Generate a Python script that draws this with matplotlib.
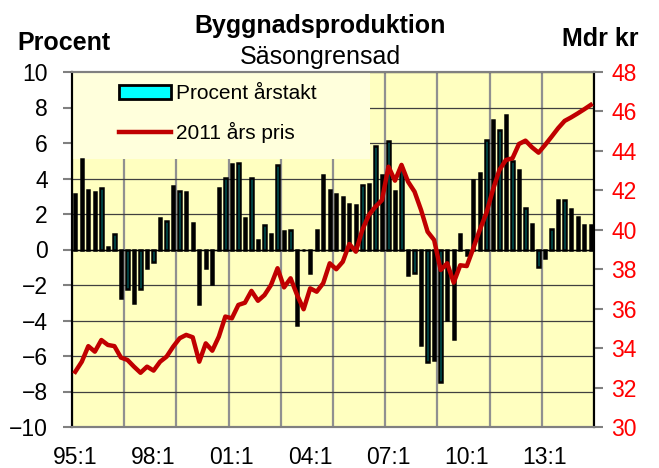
import matplotlib
matplotlib.use("Agg")
import matplotlib.pyplot as plt
import numpy as np
from matplotlib.lines import Line2D
from matplotlib.patches import Patch, Rectangle

plt.rcParams["font.family"] = ["Liberation Sans", "DejaVu Sans"]

# quarterly data 95:1 - 14:4
tick_labels = ["95:1", "98:1", "01:1", "04:1", "07:1", "10:1", "13:1"]

growth = [
    3.12, 5.09, 3.38, 3.25, 3.47, 0.15, 0.85, -2.72, -2.2, -3.0,
    -2.23, -1.07, -0.7, 1.8, 1.58, 3.59, 3.27, 3.25, 1.52, -3.06,
    -1.05, -1.92, 3.49, 4.04, 4.84, 4.85, 1.75, 4.02, 0.55, 1.37,
    0.85, 4.77, 1.03, 1.08, -4.26, 0.0, -1.35, 1.09, 4.17, 3.38,
    3.12, 2.93, 2.55, 2.5, 3.62, 3.7, 5.82, 4.17, 6.1, 3.3,
    4.55, -1.45, -1.35, -5.39, -6.33, -6.23, -7.45, -3.98, -5.07, 0.86,
    -0.3, 3.9, 4.32, 6.16, 7.32, 6.72, 7.57, 5.0, 4.47, 2.35,
    1.42, -0.98, -0.48, 1.18, 2.8, 2.8, 2.3, 1.84, 1.37, 1.36,
]

price = [
    32.8, 33.31, 34.1, 33.82, 34.41, 34.16, 34.1, 33.52, 33.4, 33.06,
    32.75, 33.06, 32.86, 33.31, 33.57, 34.07, 34.5, 34.67, 34.55, 33.31,
    34.24, 33.87, 34.58, 35.6, 35.51, 36.19, 36.3, 36.9, 36.4, 36.69,
    37.2, 38.05, 37.08, 37.54, 36.69, 35.97, 37.03, 36.86, 37.29, 38.3,
    38.0, 38.38, 39.28, 38.89, 40.0, 40.75, 41.17, 41.5, 43.2, 42.49,
    43.29, 42.44, 41.93, 41.0, 39.9, 39.48, 37.96, 38.3, 37.32, 38.2,
    38.16, 39.06, 40.0, 40.84, 42.02, 43.03, 43.54, 43.62, 44.35, 44.52,
    44.18, 43.91, 44.3, 44.72, 45.15, 45.52, 45.7, 45.9, 46.11, 46.33,
]

quarters = np.arange(len(growth))

fig = plt.figure(figsize=(6.59, 4.68), dpi=100)
ax = fig.add_axes([72 / 659, 41 / 468, 522 / 659, 355 / 468])
ax.set_facecolor("#FFFFC0")

ax.bar(quarters, growth, width=0.36, color="#00FFFF", edgecolor="black", linewidth=1.8, zorder=3)
ax.axhline(0, color="black", lw=1, zorder=2.5)

# legend background box
ax.add_patch(Rectangle((0, 0.755), 0.571, 0.245, transform=ax.transAxes,
                       facecolor="#FFFFDC", edgecolor="none", zorder=2))

ax.set_xlim(-0.5, len(growth) - 0.5)
ax.set_ylim(-10, 10)
ax.set_yticks(range(-10, 11, 2))
ax.set_xticks(np.arange(0, len(growth), 12))
ax.set_xticklabels(tick_labels)
ax.set_xticks(np.arange(-0.5, len(growth), 8), minor=True)
ax.set_axisbelow(True)
ax.yaxis.grid(True, color="#404040", lw=0.9)
ax.xaxis.grid(True, which="minor", color="#909090", lw=1.6)
ax.tick_params(axis="x", which="both", length=0, pad=14, labelsize=16.5)
ax.tick_params(axis="y", length=6.5, width=1.5, color="#808080", pad=11, labelsize=16.5)

ax2 = ax.twinx()
ax2.plot(quarters, price, color="#C00000", lw=3.2, solid_joinstyle="round", zorder=4)
ax2.set_ylim(30, 48)
ax2.set_yticks(range(30, 49, 2))
ax2.tick_params(axis="y", color="#808080", labelcolor="red", length=6.5, width=1.5,
                pad=6, labelsize=16.5)

for a in (ax, ax2):
    a.spines["left"].set_color("black")
    a.spines["right"].set_color("black")
    a.spines["top"].set_color("#808080")
    a.spines["bottom"].set_color("#808080")
    for s in a.spines.values():
        s.set_linewidth(1.5)

handles = [Patch(facecolor="#00FFFF", edgecolor="black", lw=2),
           Line2D([], [], color="#C00000", lw=3.2)]
ax2.legend(handles, ["Procent årstakt", "2011 års pris"], loc="upper left",
           bbox_to_anchor=(0.09, 0.965), frameon=False, fontsize=15,
           handlelength=2.5, handleheight=0.6, handletextpad=0.25,
           labelspacing=0.9, borderpad=0, borderaxespad=0)

fig.text(320 / 659, 1 - 33 / 468, "Byggnadsproduktion", ha="center", va="baseline",
         fontsize=18, fontweight="bold")
fig.text(320 / 659, 1 - 64 / 468, "Säsongrensad", ha="center", va="baseline", fontsize=18)
fig.text(17 / 659, 1 - 50 / 468, "Procent", ha="left", va="baseline",
         fontsize=18, fontweight="bold")
fig.text(639 / 659, 1 - 46 / 468, "Mdr kr", ha="right", va="baseline",
         fontsize=18, fontweight="bold")

fig.savefig("out.png", dpi=100)
